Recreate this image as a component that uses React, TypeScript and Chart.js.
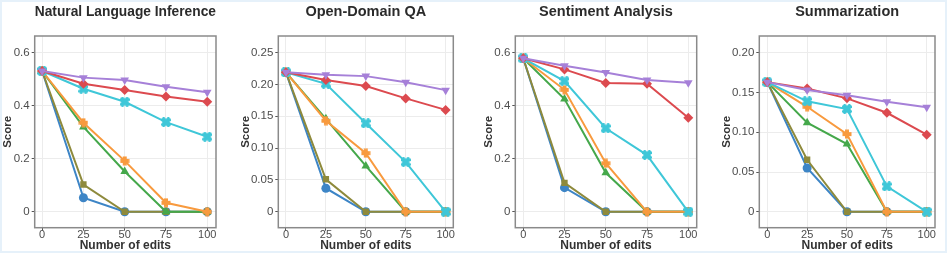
import React, { useEffect, useRef } from 'react';
import { Chart, registerables } from 'chart.js';
Chart.register(...registerables);

// ---------- data ----------
const edits = [0, 25, 50, 75, 100];
const xTickValues = [0, 25, 50, 75, 100];

const methodLabels = ['Method 1', 'Method 2', 'Method 3', 'Method 4', 'Method 5', 'Method 6', 'Method 7'];
const methodColors = ['#a680d8', '#dc4a4f', '#3fc7d8', '#f89a3e', '#45a84b', '#8e8a3c', '#3d85c6'];

// Natural Language Inference
const nliM1 = [0.531, 0.506, 0.497, 0.472, 0.451];
const nliM2 = [0.531, 0.483, 0.459, 0.435, 0.415];
const nliM3 = [0.531, 0.464, 0.415, 0.338, 0.283];
const nliM4 = [0.531, 0.336, 0.192, 0.034, 0];
const nliM5 = [0.531, 0.32, 0.152, 0, 0];
const nliM6 = [0.531, 0.103, 0, 0, 0];
const nliM7 = [0.531, 0.053, 0, 0, 0];

// Open-Domain QA
const qaM1 = [0.219, 0.215, 0.213, 0.2035, 0.191];
const qaM2 = [0.219, 0.207, 0.1976, 0.178, 0.16];
const qaM3 = [0.219, 0.201, 0.139, 0.078, 0];
const qaM4 = [0.219, 0.143, 0.092, 0, 0];
const qaM5 = [0.219, 0.146, 0.072, 0, 0];
const qaM6 = [0.219, 0.051, 0, 0, 0];
const qaM7 = [0.219, 0.037, 0, 0, 0];

// Sentiment Analysis
const saM1 = [0.579, 0.551, 0.525, 0.497, 0.487];
const saM2 = [0.579, 0.537, 0.486, 0.483, 0.355];
const saM3 = [0.579, 0.493, 0.315, 0.214, 0];
const saM4 = [0.579, 0.46, 0.183, 0, 0];
const saM5 = [0.579, 0.425, 0.147, 0, 0];
const saM6 = [0.579, 0.109, 0, 0, 0];
const saM7 = [0.579, 0.091, 0, 0, 0];

// Summarization
const sumM1 = [0.163, 0.153, 0.1464, 0.1384, 0.1313];
const sumM2 = [0.163, 0.155, 0.1426, 0.1245, 0.0969];
const sumM3 = [0.163, 0.1389, 0.1292, 0.032, 0];
const sumM4 = [0.163, 0.132, 0.0977, 0, 0];
const sumM5 = [0.163, 0.112, 0.0852, 0, 0];
const sumM6 = [0.163, 0.0654, 0, 0, 0];
const sumM7 = [0.163, 0.055, 0, 0, 0];

const yTicksLarge = [0, 0.2, 0.4, 0.6];
const yTickLabelsLarge = ['0', '0.2', '0.4', '0.6'];
const yTicksQA = [0, 0.05, 0.1, 0.15, 0.2, 0.25];
const yTickLabelsQA = ['0', '0.05', '0.10', '0.15', '0.20', '0.25'];
const yTicksSum = [0, 0.05, 0.1, 0.15, 0.2];
const yTickLabelsSum = ['0', '0.05', '0.10', '0.15', '0.20'];

// ---------- marker helpers ----------
function makePlus(color: string) {
  const c = document.createElement('canvas');
  c.width = 10; c.height = 10;
  const g = c.getContext('2d')!;
  g.fillStyle = color;
  g.fillRect(3, 0.5, 4, 9);
  g.fillRect(0.5, 3, 9, 4);
  return c;
}
function makeX(color: string) {
  const c = document.createElement('canvas');
  c.width = 10; c.height = 10;
  const g = c.getContext('2d')!;
  g.fillStyle = color;
  g.translate(5, 5);
  g.rotate(Math.PI / 4);
  g.fillRect(-2.3, -5.6, 4.6, 11.2);
  g.fillRect(-5.6, -2.3, 11.2, 4.6);
  return c;
}

const framePlugin = {
  id: 'frame',
  beforeDatasetsDraw(chart: any) {
    const { ctx, chartArea } = chart;
    ctx.save();
    ctx.strokeStyle = '#8a8a8a';
    ctx.lineWidth = 1.5;
    ctx.strokeRect(chartArea.left, chartArea.top, chartArea.right - chartArea.left, chartArea.bottom - chartArea.top);
    ctx.restore();
  },
};

const FONT = "'Liberation Sans', Arial, sans-serif";

type PanelProps = {
  title: string;
  series: number[][];
  left: number;
  width: number;
  axisWidth: number;
  padRight: number;
  yTitlePad: number;
  xMin: number;
  xMax: number;
  yMin: number;
  yMax: number;
  yTicks: number[];
  yLabels: string[];
};

function Panel(p: PanelProps) {
  const ref = useRef<HTMLCanvasElement>(null);
  useEffect(() => {
    const styles: any[] = [
      { pointStyle: 'triangle', rotation: 180, radius: 5 },
      { pointStyle: 'rectRot', rotation: 0, radius: 5 },
      { pointStyle: makeX(methodColors[2]), rotation: 0, radius: 5 },
      { pointStyle: makePlus(methodColors[3]), rotation: 0, radius: 5 },
      { pointStyle: 'triangle', rotation: 0, radius: 5 },
      { pointStyle: 'rect', rotation: 0, radius: 4.5 },
      { pointStyle: 'circle', rotation: 0, radius: 4.5 },
    ];
    const datasets = p.series.map((vals, i) => ({
      label: methodLabels[i],
      data: vals.map((v, j) => ({ x: edits[j], y: v })),
      borderColor: methodColors[i],
      backgroundColor: methodColors[i],
      pointBackgroundColor: methodColors[i],
      pointBorderColor: methodColors[i],
      pointBorderWidth: 0,
      borderWidth: 2,
      pointStyle: styles[i].pointStyle,
      pointRotation: styles[i].rotation,
      pointRadius: styles[i].radius,
      tension: 0,
    }));
    const chart = new Chart(ref.current!, {
      type: 'line',
      data: { datasets },
      plugins: [framePlugin],
      options: {
        animation: false,
        responsive: false,
        layout: { padding: { left: 0, right: p.padRight, top: 0, bottom: 0 } },
        plugins: {
          legend: { display: false },
          tooltip: { enabled: false },
          title: {
            display: true,
            text: p.title,
            fullSize: false,
            color: '#2b2b2b',
            font: { family: FONT, size: 14.5, weight: 'bold' },
            padding: { top: 3, bottom: 15.6 },
          },
        },
        scales: {
          x: {
            type: 'linear',
            min: p.xMin,
            max: p.xMax,
            afterBuildTicks: (s: any) => { s.ticks = xTickValues.map((v) => ({ value: v })); },
            afterFit: (s: any) => { s.height = 25.3; },
            ticks: {
              callback: (v: any) => String(v),
              color: '#4d4d4d',
              font: { family: FONT, size: 11 },
              padding: -2,
              maxRotation: 0,
              autoSkip: false,
            },
            grid: { color: '#ececec', lineWidth: 1, tickLength: 3, tickColor: '#555', drawTicks: true },
            border: { display: false },
            title: {
              display: true,
              text: 'Number of edits',
              color: '#333',
              font: { family: FONT, size: 12, weight: 'bold' },
              padding: { top: 0, bottom: 0.6 },
            },
          },
          y: {
            type: 'linear',
            min: p.yMin,
            max: p.yMax,
            afterBuildTicks: (s: any) => { s.ticks = p.yTicks.map((v) => ({ value: v })); },
            afterFit: (s: any) => { s.width = p.axisWidth; },
            ticks: {
              callback: (v: any) => {
                const idx = p.yTicks.findIndex((t) => Math.abs(t - v) < 1e-9);
                return idx >= 0 ? p.yLabels[idx] : '';
              },
              color: '#4d4d4d',
              font: { family: FONT, size: 11.5 },
              padding: 2,
              autoSkip: false,
            },
            grid: { color: '#ececec', lineWidth: 1, tickLength: 3, tickColor: '#555', drawTicks: true },
            border: { display: false },
            title: {
              display: true,
              text: 'Score',
              color: '#333',
              font: { family: FONT, size: 11.5, weight: 'bold' },
              padding: { top: p.yTitlePad, bottom: 0 },
            },
          },
        },
      } as any,
    });
    return () => chart.destroy();
  }, []);
  return (
    <canvas
      ref={ref}
      width={p.width}
      height={253}
      style={{ position: 'absolute', left: p.left, top: 0, width: p.width, height: 253, display: 'block' }}
    />
  );
}

export default function App() {
  return (
    <div style={{ position: 'absolute', left: 0, top: 0, width: 947, height: 253, background: '#ffffff', overflow: 'hidden' }}>
      <div style={{ position: 'absolute', left: 0, top: 0, width: 947, height: 253, boxSizing: 'border-box', border: '2px solid #e6f1fa' }} />
      <Panel
        title="Natural Language Inference"
        series={[nliM1, nliM2, nliM3, nliM4, nliM5, nliM6, nliM7]}
        left={0} width={236} axisWidth={34.7} padRight={20} yTitlePad={1.2}
        xMin={-4.5} xMax={105.3} yMin={-0.06} yMax={0.663}
        yTicks={yTicksLarge} yLabels={yTickLabelsLarge}
      />
      <Panel
        title="Open-Domain QA"
        series={[qaM1, qaM2, qaM3, qaM4, qaM5, qaM6, qaM7]}
        left={236} width={235} axisWidth={42.3} padRight={17.7} yTitlePad={3.2}
        xMin={-4.8} xMax={104.8} yMin={-0.025} yMax={0.276}
        yTicks={yTicksQA} yLabels={yTickLabelsQA}
      />
      <Panel
        title="Sentiment Analysis"
        series={[saM1, saM2, saM3, saM4, saM5, saM6, saM7]}
        left={471} width={235} axisWidth={44.3} padRight={9.3} yTitlePad={11.2}
        xMin={-4.8} xMax={105.1} yMin={-0.06} yMax={0.663}
        yTicks={yTicksLarge} yLabels={yTickLabelsLarge}
      />
      <Panel
        title="Summarization"
        series={[sumM1, sumM2, sumM3, sumM4, sumM5, sumM6, sumM7]}
        left={706} width={241} axisWidth={53.3} padRight={12} yTitlePad={13.7}
        xMin={-5} xMax={105.2} yMin={-0.02} yMax={0.221}
        yTicks={yTicksSum} yLabels={yTickLabelsSum}
      />
    </div>
  );
}
